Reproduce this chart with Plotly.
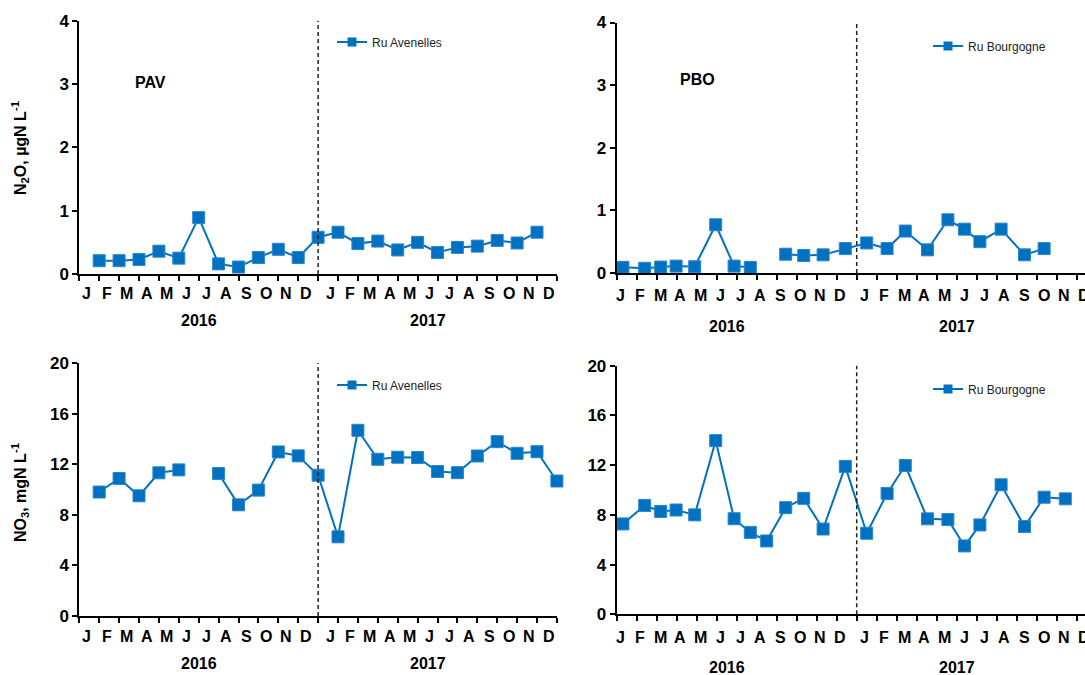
import plotly.graph_objects as go

W, H = 1085, 675

# ---------------- data ----------------
months = ["J", "F", "M", "A", "M", "J", "J", "A", "S", "O", "N", "D"]
years = ["2016", "2017"]

# Ru Avenelles (PAV): month index from Jan 2016
pav_x = list(range(1, 25))
pav_n2o = [0.21, 0.21, 0.23, 0.36, 0.25, 0.89, 0.16, 0.11, 0.26, 0.39, 0.26, 0.58,
           0.66, 0.48, 0.52, 0.38, 0.50, 0.34, 0.42, 0.44, 0.53, 0.49, 0.66, None]
pav_no3 = [9.8, 10.87, 9.5, 11.32, 11.55, None, 11.26, 8.79, 9.95, 12.97, 12.66, 11.13,
           6.26, 14.68, 12.39, 12.55, 12.53, 11.42, 11.33, 12.65, 13.78, 12.86, 12.99, 10.67]

# Ru Bourgogne (PBO): sampling dates as fractional month index from Jan 2016
pbo_x = [0.31, 1.40, 2.20, 2.97, 3.90, 4.95, 5.87, 6.68, 7.50, 8.45, 9.35, 10.32,
         11.43, 12.50, 13.52, 14.43, 15.54, 16.56, 17.39, 18.16, 19.22, 20.39, 21.37, 22.43]
pbo_n2o = [0.09, 0.075, 0.095, 0.11, 0.10, 0.77, 0.11, 0.09, None, 0.30, 0.28, 0.29,
           0.39, 0.48, 0.39, 0.67, 0.37, 0.85, 0.70, 0.50, 0.70, 0.29, 0.39, None]
pbo_no3 = [7.27, 8.76, 8.28, 8.39, 8.00, 13.97, 7.69, 6.59, 5.90, 8.58, 9.33, 6.86,
           11.90, 6.52, 9.72, 11.97, 7.68, 7.62, 5.50, 7.19, 10.42, 7.06, 9.42, 9.29]

n2o_title = "N<sub>2</sub>O, µgN L<sup>-1</sup>"
no3_title = "NO<sub>3</sub>, mgN L<sup>-1</sup>"

# ---------------- layout geometry (pixels) ----------------
BLUE = "#0070C0"
FONT = "Arial, Liberation Sans, sans-serif"

panels = [
    dict(ax="", x0=79.3, ppm=19.9, y0=274.0, y1=20.7, ymax=4, dtick=1,
         x=pav_x, y=pav_n2o, name="Ru Avenelles", leg=(337, 42), label="PAV", lab_xy=(150, 83),
         mon_y=294, mon_off=(0.38, 0.6), yr_y=321, yr_pos=(6.0, 17.5),
         ytitle=n2o_title, ytitle_y=148),
    dict(ax="2", x0=616.7, ppm=20.0, y0=273.0, y1=22.5, ymax=4, dtick=1,
         x=pbo_x, y=pbo_n2o, name="Ru Bourgogne", leg=(933, 46), label="PBO", lab_xy=(697, 79),
         mon_y=295, mon_off=(0.18, 0.38), yr_y=326, yr_pos=(5.5, 17.0),
         ytitle=None, ytitle_y=None),
    dict(ax="3", x0=79.3, ppm=19.9, y0=616.0, y1=363.0, ymax=20, dtick=4,
         x=pav_x, y=pav_no3, name="Ru Avenelles", leg=(337, 385), label=None, lab_xy=None,
         mon_y=636, mon_off=(0.38, 0.6), yr_y=663, yr_pos=(6.0, 17.5),
         ytitle=no3_title, ytitle_y=493),
    dict(ax="4", x0=616.7, ppm=20.0, y0=614.3, y1=365.7, ymax=20, dtick=4,
         x=pbo_x, y=pbo_no3, name="Ru Bourgogne", leg=(933, 389), label=None, lab_xy=None,
         mon_y=637, mon_off=(0.18, 0.38), yr_y=667, yr_pos=(5.5, 17.0),
         ytitle=None, ytitle_y=None),
]

fig = go.Figure()
annotations = []
shapes = []
layout = dict(
    width=W, height=H, margin=dict(l=0, r=0, t=0, b=0, pad=0, autoexpand=False),
    paper_bgcolor="white", plot_bgcolor="white",
    font=dict(family=FONT, color="black"),
)

for i, p in enumerate(panels):
    sfx = p["ax"]
    legname = "legend" if i == 0 else f"legend{i+1}"
    fig.add_trace(go.Scatter(
        x=p["x"], y=p["y"], name=p["name"], mode="lines+markers",
        xaxis="x" + sfx, yaxis="y" + sfx, showlegend=False,
        line=dict(color=BLUE, width=2),
        marker=dict(symbol="square", size=12, color=BLUE, line=dict(color="#2A86CC", width=1)),
        connectgaps=False, cliponaxis=False,
    ))
    # legend entry (style sample only)
    fig.add_trace(go.Scatter(
        x=[None], y=[None], name=p["name"], mode="lines+markers",
        xaxis="x" + sfx, yaxis="y" + sfx, legend=legname, showlegend=True,
        line=dict(color=BLUE, width=2),
        marker=dict(symbol="square", size=9, color=BLUE),
    ))
    xd0 = p["x0"] / W
    xmax = min(24.0, (W - p["x0"]) / p["ppm"])
    xd1 = (p["x0"] + xmax * p["ppm"]) / W
    yd0 = 1 - p["y0"] / H
    yd1 = 1 - p["y1"] / H
    layout["xaxis" + sfx] = dict(
        domain=[xd0, min(xd1, 1.0)], range=[0, xmax], anchor="y" + sfx,
        showline=True, linecolor="black", linewidth=2,
        tickmode="array", tickvals=list(range(0, 25)), ticks="outside",
        ticklen=5, tickwidth=1.5, tickcolor="black",
        showticklabels=False, showgrid=False, zeroline=False, fixedrange=True,
        automargin=False,
    )
    layout["yaxis" + sfx] = dict(
        domain=[yd0, yd1], range=[0, p["ymax"]], anchor="x" + sfx,
        showline=True, linecolor="black", linewidth=2,
        tickmode="linear", tick0=0, dtick=p["dtick"], ticks="outside",
        ticklen=5, tickwidth=1.5, tickcolor="black",
        tickfont=dict(family=FONT, size=17, weight="bold", color="black"),
        showgrid=False, zeroline=False, fixedrange=True, automargin=False,
    )
    lx, ly = p["leg"]
    layout[legname] = dict(
        x=(lx - 5) / W, y=1 - ly / H, xanchor="left", yanchor="middle",
        bgcolor="rgba(0,0,0,0)", borderwidth=0,
        font=dict(family="Liberation Sans, Arial, sans-serif", size=12, color="#222"),
    )
    shapes.append(dict(type="line", xref="x" + sfx, yref="y" + sfx + " domain",
                       x0=12, x1=12, y0=0, y1=1,
                       line=dict(color="#222", width=1.5, dash="4px,3px")))
    for k in range(24):
        off = p["mon_off"][0] if k < 12 else p["mon_off"][1]
        xpx = p["x0"] + (k + off) * p["ppm"]
        annotations.append(dict(
            text=months[k % 12], xref="paper", yref="paper",
            x=xpx / W, y=1 - p["mon_y"] / H, xanchor="center", yanchor="middle",
            showarrow=False, font=dict(family=FONT, size=16, weight="bold", color="black"),
        ))
    for yr, pos in zip(years, p["yr_pos"]):
        xpx = p["x0"] + pos * p["ppm"]
        annotations.append(dict(
            text=yr, xref="paper", yref="paper",
            x=xpx / W, y=1 - p["yr_y"] / H, xanchor="center", yanchor="middle",
            showarrow=False, font=dict(family=FONT, size=16, weight="bold", color="black"),
        ))
    if p["label"]:
        annotations.append(dict(
            text=p["label"], xref="paper", yref="paper",
            x=p["lab_xy"][0] / W, y=1 - p["lab_xy"][1] / H,
            xanchor="center", yanchor="middle", showarrow=False,
            font=dict(family=FONT, size=16, weight="bold", color="black"),
        ))
    if p["ytitle"]:
        annotations.append(dict(
            text=p["ytitle"], xref="paper", yref="paper",
            x=20 / W, y=1 - p["ytitle_y"] / H, xanchor="center", yanchor="middle",
            textangle=-90, showarrow=False,
            font=dict(family=FONT, size=16, weight="bold", color="black"),
        ))

layout["annotations"] = annotations
layout["shapes"] = shapes
fig.update_layout(**layout)
fig.write_html(
    "out.html",
    config={"displayModeBar": False, "responsive": False},
    post_script="document.body.style.margin='0';document.body.style.padding='0';document.body.style.overflow='hidden';",
)
